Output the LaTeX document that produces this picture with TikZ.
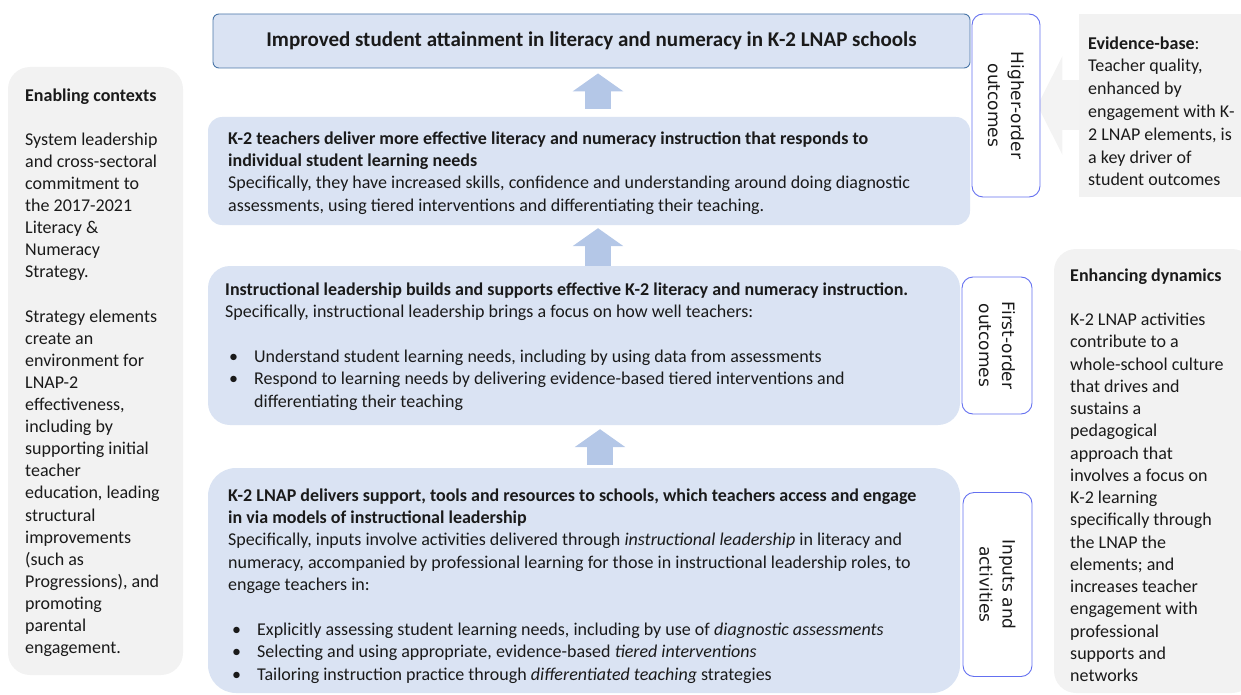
\documentclass[tikz,border=0pt]{standalone}
\usepackage{fontspec}
\setmainfont{Carlito}
\newfontfamily\labelfont{DejaVu Sans}
\usetikzlibrary{arrows.meta,calc}
\pgfdeclarelayer{background}
\pgfsetlayers{background,main}
\definecolor{boxblue}{HTML}{DAE3F3}
\definecolor{arrowblue}{HTML}{B4C7E7}
\definecolor{topborder}{HTML}{4A76A8}
\definecolor{labelborder}{HTML}{6470F0}
\definecolor{panelgray}{HTML}{F2F2F2}
\definecolor{faintgray}{HTML}{F3F3F3}
\definecolor{inktext}{HTML}{1A1A1A}
% bullet with its hanging indent, and the matching indent for continued lines
\newcommand\bulitem{\hspace*{4pt}\makebox[25pt][l]{\textbullet}}
\newcommand\bulcont{\hspace*{29pt}}
\begin{document}
\begin{tikzpicture}[x=1pt,y=-1pt,
  every node/.style={text=inktext},
  levelbox/.style={fill=boxblue,draw=none,inner sep=0pt},
  topbox/.style={fill=boxblue,draw=topborder,line width=0.9pt,rounded corners=6pt,inner sep=0pt,
    font=\bfseries\fontsize{21}{25}\selectfont},
  sidelabel/.style={fill=white,draw=labelborder,line width=0.9pt,rounded corners=11pt,inner sep=0pt,
    rotate=-90,align=center,font=\labelfont\fontsize{17}{23}\selectfont},
  panel/.style={fill=panelgray,draw=none,inner sep=0pt},
  % text blocks hang from the top of a strut on their first line
  bodytext/.style={anchor=north west,inner sep=0pt,align=left,font=\fontsize{18}{22.4}\selectfont},
  bigarrow/.style={draw=arrowblue,line width=26pt,-{Triangle[width=50pt,length=18pt]}},
  faintarrow/.style={draw=faintgray,line width=50pt,-{Triangle[width=98pt,length=25pt]}}
]
\useasboundingbox (0,0) rectangle (1241,695);

% side panels
\node[panel,rounded corners=22pt,minimum width=175pt,minimum height=608pt] (ctx) at (95.5,371) {};
\node[panel,rounded corners=22pt,minimum width=200pt,minimum height=444pt] (dyn) at (1154,471) {};
\node[panel,minimum width=166pt,minimum height=183pt] (evd) at (1162,105.5) {};

% result chain, from outcome down to inputs
\node[topbox,minimum width=757pt,minimum height=54pt] (top) at (591.5,41)
  {Improved student attainment in literacy and numeracy in K-2 LNAP schools};
\node[levelbox,rounded corners=14pt,minimum width=762pt,minimum height=108pt] (b2) at (589,171) {};
\node[levelbox,rounded corners=22pt,minimum width=752pt,minimum height=159pt] (b3) at (584,345.5) {};
\node[levelbox,rounded corners=28pt,minimum width=752pt,minimum height=225pt] (b4) at (584,580.5) {};

% level labels (turned a quarter clockwise: their local north faces right)
\node[sidelabel,minimum width=183pt,minimum height=68pt] (lab1) at (1006,105.5) {Higher-order\\outcomes};
\node[sidelabel,minimum width=137pt,minimum height=70pt] (lab2) at (997,345.5) {First-order\\outcomes};
\node[sidelabel,minimum width=184pt,minimum height=69pt] (lab3) at (997.5,584.5) {Inputs and\\activities};

% box texts
\node[bodytext] (t2) at (228,128.3) {\strut\textbf{K-2 teachers deliver more effective literacy and numeracy instruction that responds to}\\
  \textbf{individual student learning needs}\\
  Specifically, they have increased skills, confidence and understanding around doing diagnostic\\
  assessments, using tiered interventions and differentiating their teaching.};

\node[bodytext] (t3) at (225,279.3) {\strut\textbf{Instructional leadership builds and supports effective K-2 literacy and numeracy instruction.}\\
  Specifically, instructional leadership brings a focus on how well teachers:\\[22.4pt]
  \bulitem Understand student learning needs, including by using data from assessments\\
  \bulitem Respond to learning needs by delivering evidence-based tiered interventions and\\
  \bulcont differentiating their teaching};

\node[bodytext] (t4) at (228,485.3) {\strut\textbf{K-2 LNAP delivers support, tools and resources to schools, which teachers access and engage}\\
  \textbf{in via models of instructional leadership}\\
  Specifically, inputs involve activities delivered through \textit{instructional leadership} in literacy and\\
  numeracy, accompanied by professional learning for those in instructional leadership roles, to\\
  engage teachers in:\\[22.4pt]
  \bulitem Explicitly assessing student learning needs, including by use of \textit{diagnostic assessments}\\
  \bulitem Selecting and using appropriate, evidence-based \textit{tiered interventions}\\
  \bulitem Tailoring instruction practice through \textit{differentiated teaching} strategies};

\node[bodytext,font=\fontsize{18}{22.1}\selectfont] (tctx) at (25,85.5) {\strut\textbf{Enabling contexts}\\[22.1pt]
  System leadership\\ and cross-sectoral\\ commitment to\\ the 2017-2021\\ Literacy \&\\ Numeracy\\ Strategy.\\[22.1pt]
  Strategy elements\\ create an\\ environment for\\ LNAP-2\\ effectiveness,\\ including by\\ supporting initial\\
  teacher\\ education, leading\\ structural\\ improvements\\ (such as\\ Progressions), and\\ promoting\\ parental\\ engagement.};

\node[bodytext,font=\fontsize{18}{22.25}\selectfont] (tdyn) at (1070,265.4) {\strut\textbf{Enhancing dynamics}\\[22.25pt]
  K-2 LNAP activities\\ contribute to a\\ whole-school culture\\ that drives and\\ sustains a\\ pedagogical\\
  approach that\\ involves a focus on\\ K-2 learning\\ specifically through\\ the LNAP the\\ elements; and\\
  increases teacher\\ engagement with\\ professional\\ supports and\\ networks};

\node[bodytext,font=\fontsize{18}{22.8}\selectfont] (tevd) at (1088,33) {\strut\textbf{Evidence-base}:\\ Teacher quality,\\
  enhanced by\\ engagement with K-\\ 2 LNAP elements, is\\ a key driver of\\ student outcomes};

% upward arrows between the levels
\coordinate (ax) at (598,0);
\coordinate (bx) at (600,0);
\draw[bigarrow,shorten <=8pt,shorten >=5pt] (b2.north -| ax) -- (top.south -| ax);
\draw[bigarrow,shorten >=3pt] (b3.north -| ax) -- (b2.south -| ax);
\draw[bigarrow,shorten <=3pt,shorten >=4pt] (b4.north -| bx) -- (b3.south -| bx);

% evidence feeding the higher-order outcomes
\begin{pgfonlayer}{background}
\draw[faintarrow,shorten >=-3pt] (evd.center) -- (lab1.north);
\end{pgfonlayer}
\end{tikzpicture}
\end{document}
